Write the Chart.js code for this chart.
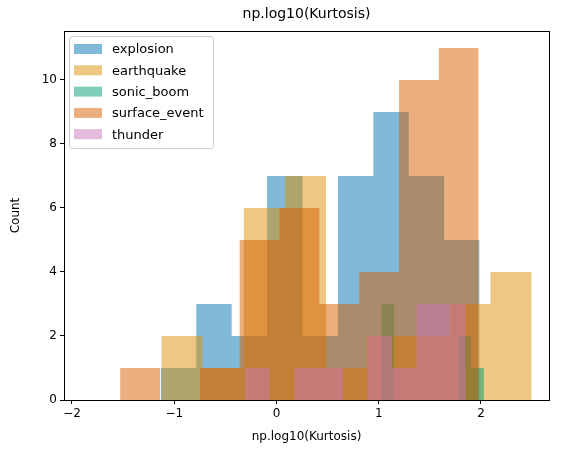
<!DOCTYPE html>
<html><head><meta charset="utf-8">
<script src="https://cdn.jsdelivr.net/npm/chart.js@4"></script>
<style>html,body{margin:0;padding:0;background:#fff}#c{display:block}</style>
</head><body>
<div style="width:563px;height:454px"><canvas id="c"></canvas></div>
<script>
const seriesNames = ['explosion','earthquake','sonic_boom','surface_event','thunder'];
const colors = ['rgba(1,115,178,0.5)','rgba(222,143,5,0.5)','rgba(2,158,115,0.5)','rgba(213,94,0,0.5)','rgba(204,120,188,0.5)'];
// bin ranges [start, end] and counts (10 bins each)
const explosionRange = [-1.477, 1.986];
const explosionCounts = [1,3,2,7,2,7,9,7,5,1];
const earthquakeRange = [-1.526, 2.495];
const earthquakeCounts = [2,1,6,7,1,2,2,3,4,1];
const sonicRange = [0.900, 2.153];
const sonicCounts = [3,0,0,0,0,0,2,1,0,1];
const surfaceRange = [-1.918, 1.977];
const surfaceCounts = [1,0,1,5,6,3,4,10,11,6];
const thunderRange = [-0.548, 1.849];
const thunderCounts = [1,0,1,1,0,2,1,3,3,1];
const xTicks = [-2,-1,0,1,2];
const yTicks = [0,2,4,6,8,10];

const ranges = [explosionRange, earthquakeRange, sonicRange, surfaceRange, thunderRange];
const counts = [explosionCounts, earthquakeCounts, sonicCounts, surfaceCounts, thunderCounts];

function stepPoints(r, c){
  const w = (r[1]-r[0])/c.length;
  const pts = [{x:r[0], y:0}];
  c.forEach((v,i)=>pts.push({x:r[0]+(i+1)*w, y:v}));
  return pts;
}
const datasets = seriesNames.map((n,i)=>({
  label:n, data:stepPoints(ranges[i],counts[i]), stepped:'before',
  fill:'origin', backgroundColor:colors[i], borderWidth:0, borderColor:'rgba(0,0,0,0)',
  pointRadius:0, order:5-i
}));
const FONT = 'DejaVu Sans';
const deco = {
  id:'deco',
  afterDraw(chart){
    const ctx = chart.ctx, a = chart.chartArea;
    ctx.save();
    ctx.strokeStyle='#000'; ctx.lineWidth=1;
    ctx.strokeRect(Math.round(a.left)+0.5, Math.round(a.top)+0.5, Math.round(a.right-a.left), Math.round(a.bottom-a.top));
    ctx.fillStyle='#000';
    ctx.textAlign='center'; ctx.textBaseline='middle';
    ctx.font = '14px "'+FONT+'"';
    ctx.fillText('np.log10(Kurtosis)', (a.left+a.right)/2, 14);
    ctx.font = '12px "'+FONT+'"';
    ctx.fillText('np.log10(Kurtosis)', (a.left+a.right)/2, 437);
    ctx.save(); ctx.translate(16,(a.top+a.bottom)/2); ctx.rotate(-Math.PI/2);
    ctx.fillText('Count',0,0); ctx.restore();
    // legend
    const lx=a.left+5, ly=a.top+5, lw=144, lh=112;
    ctx.fillStyle='rgba(255,255,255,0.8)';
    ctx.strokeStyle='#ccc';
    ctx.beginPath(); ctx.roundRect(lx+0.5,ly+0.5,lw,lh,3); ctx.fill(); ctx.stroke();
    ctx.font = '13px "'+FONT+'"'; ctx.textAlign='left';
    seriesNames.forEach((n,i)=>{
      const y = ly+13+i*21.3;
      ctx.fillStyle=colors[i]; ctx.fillRect(lx+5, y-5, 28, 10);
      ctx.fillStyle='#000'; ctx.fillText(n, lx+43, y+1);
    });
    ctx.restore();
  }
};
new Chart(document.getElementById('c'), {
  type:'line',
  data:{datasets},
  options:{
    responsive:true, maintainAspectRatio:false, animation:false,
    layout:{padding:{top:31,right:14,left:0,bottom:0}},
    plugins:{legend:{display:false},tooltip:{enabled:false},title:{display:false}},
    scales:{
      x:{type:'linear', min:-2.078, max:2.665,
        afterBuildTicks(s){s.ticks=xTicks.map(v=>({value:v}));},
        afterFit(s){s.height=54;},
        grid:{display:true,drawOnChartArea:false,tickLength:4,color:'#000'},
        border:{display:false},
        ticks:{color:'#000',font:{family:FONT,size:12},padding:3,
          callback:v=>String(v).replace('-','\u2212')}},
      y:{min:0, max:11.53,
        afterBuildTicks(s){s.ticks=yTicks.map(v=>({value:v}));},
        afterFit(s){s.width=64;},
        grid:{display:true,drawOnChartArea:false,tickLength:4,color:'#000'},
        border:{display:false},
        ticks:{color:'#000',font:{family:FONT,size:12},padding:3}}
    }
  },
  plugins:[deco]
});
</script>
</body></html>
